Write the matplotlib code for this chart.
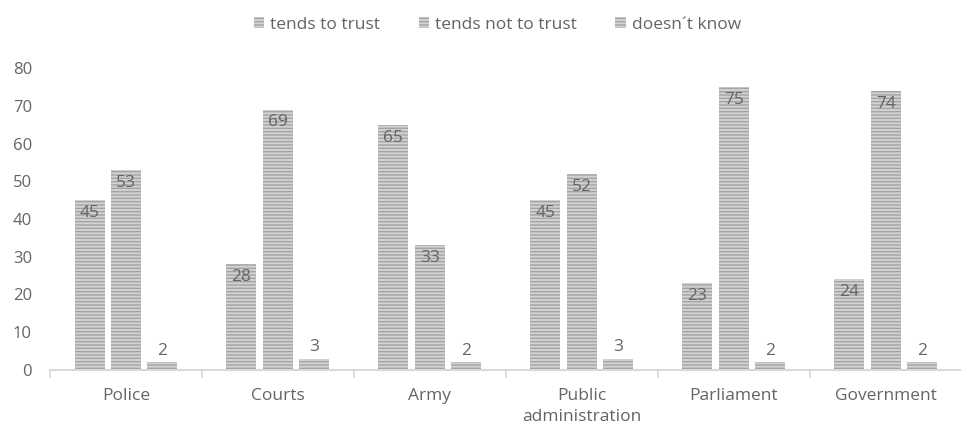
import numpy as np
import matplotlib.pyplot as plt

plt.rcParams['font.family'] = ['Open Sans', 'DejaVu Sans']
plt.rcParams['hatch.linewidth'] = 1.0
plt.rcParams['hatch.color'] = '#a4a4a4'

categories = ['Police', 'Courts', 'Army', 'Public\nadministration', 'Parliament', 'Government']
series_names = ['tends to trust', 'tends not to trust', 'doesn\u00b4t know']
trust = [45, 28, 65, 45, 23, 24]
not_trust = [53, 69, 33, 52, 75, 74]
dont_know = [2, 3, 2, 3, 2, 2]

text_col = '#646464'
fig = plt.figure(figsize=(9.62, 4.28), dpi=100)
ax = fig.add_axes([50 / 962, 58 / 428, 912 / 962, 302 / 428])

x = np.arange(len(categories))
w = 30 / 152
step = 36.5 / 152
for i, vals in enumerate([trust, not_trust, dont_know]):
    bars = ax.bar(x + (i - 1) * step, vals, w, color='#d2d2d2', hatch='-----',
                  edgecolor='#a4a4a4', linewidth=0, label=series_names[i])
    for b, v in zip(bars, vals):
        if v > 10:
            ax.text(b.get_x() + b.get_width() / 2, v - 1.3, str(v), ha='center', va='top',
                    fontsize=12.5, color=text_col)
        else:
            ax.text(b.get_x() + b.get_width() / 2, v + 1.0, str(v), ha='center', va='bottom',
                    fontsize=12.5, color=text_col)

ax.set_xlim(-0.5, len(categories) - 0.5)
ax.set_ylim(0, 80)
ax.set_yticks(range(0, 81, 10))
ax.set_xticks(x)
ax.set_xticklabels(categories, fontsize=12.5, color=text_col, linespacing=1.45)
ax.set_xticks(np.arange(-0.5, len(categories), 1), minor=True)
ax.tick_params(axis='x', which='major', length=0, pad=13)
ax.tick_params(axis='x', which='minor', length=6, color='#d9d9d9', width=1.2)
ax.tick_params(axis='y', length=0, labelsize=12, labelcolor=text_col, pad=13)
for s in ['top', 'right', 'left']:
    ax.spines[s].set_visible(False)
ax.spines['bottom'].set_color('#d9d9d9')
ax.spines['bottom'].set_linewidth(1.5)

fig.legend(loc='upper center', bbox_to_anchor=(0.517, 0.997), ncol=3, frameon=False,
           fontsize=12.5, labelcolor=text_col, handlelength=0.6, handleheight=0.6,
           handletextpad=0.35, columnspacing=2.2)

fig.savefig('out.png', dpi=100)
